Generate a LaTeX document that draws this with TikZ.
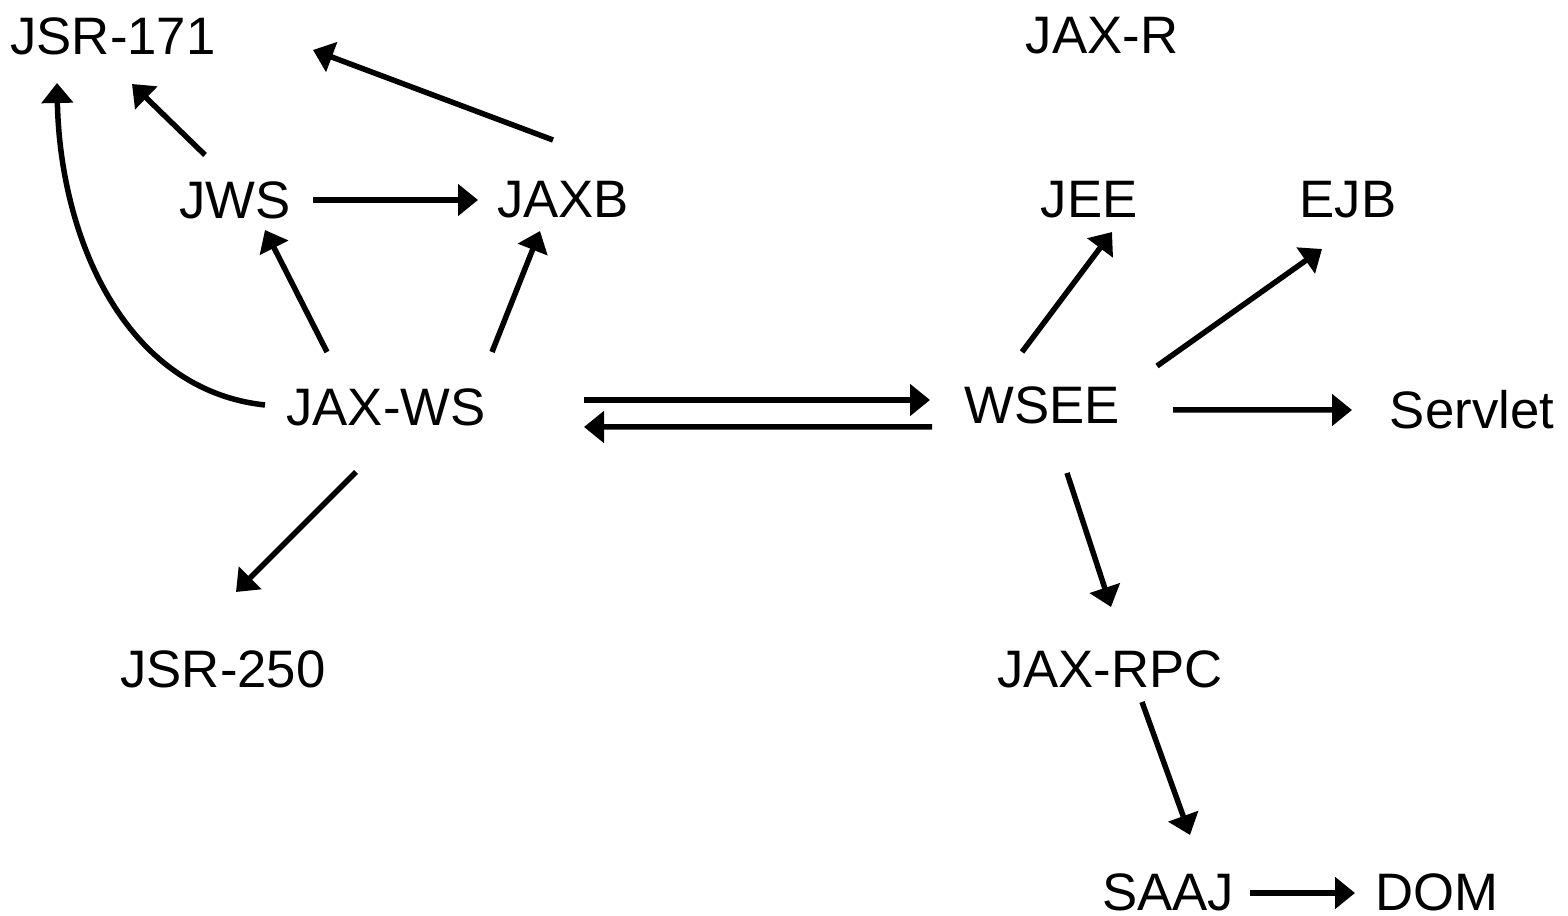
\documentclass[tikz,border=0pt]{standalone}
\usepackage{fontspec}
\setmainfont{Liberation Sans}
\usetikzlibrary{arrows.meta}
\begin{document}
\begin{tikzpicture}[
  lbl/.style={inner sep=0pt, font=\fontsize{15}{18}\selectfont},
  conn/.style={line width=0.055cm, -{Triangle[length=0.2cm,width=0.31cm]}}
]
\useasboundingbox (0,0) rectangle (15.68,-9.16);
\node[lbl] (jsr171) at (1.13,-0.36) {JSR-171};
\node[lbl] (jaxr) at (11.02,-0.36) {JAX-R};
\node[lbl] (jws) at (2.35,-2.00) {JWS};
\node[lbl] (jaxb) at (5.63,-2.00) {JAXB};
\node[lbl] (jee) at (10.89,-2.00) {JEE};
\node[lbl] (ejb) at (13.48,-2.00) {EJB};
\node[lbl] (jaxws) at (3.86,-4.07) {JAX-WS};
\node[lbl] (wsee) at (10.42,-4.05) {WSEE};
\node[lbl] (servlet) at (14.72,-4.10) {Servlet};
\node[lbl] (jsr250) at (2.23,-6.69) {JSR-250};
\node[lbl] (jaxrpc) at (11.10,-6.69) {JAX-RPC};
\node[lbl] (saaj) at (11.68,-8.92) {SAAJ};
\node[lbl] (dom) at (14.37,-8.92) {DOM};

\draw[conn] ([shift={(-0.30,0.45)}]jws.center) -- ([shift={(0.19,-0.48)}]jsr171.center);
\draw[conn] ([shift={(-0.10,0.60)}]jaxb.center) -- ([shift={(2.00,-0.14)}]jsr171.center);
\draw[conn] ([shift={(-1.21,0.02)}]jaxws.center) .. controls +(-1.40,0.15) and +(0.03,-1.55) .. ([shift={(-0.56,-0.47)}]jsr171.center);
\draw[conn] ([shift={(0.78,0)}]jws.center) -- ([shift={(-0.85,0)}]jaxb.center);
\draw[conn] ([shift={(-0.59,0.55)}]jaxws.center) -- ([shift={(0.30,-0.30)}]jws.center);
\draw[conn] ([shift={(1.06,0.55)}]jaxws.center) -- ([shift={(-0.23,-0.31)}]jaxb.center);
\draw[conn] ([shift={(-0.30,-0.65)}]jaxws.center) -- ([shift={(0.13,0.77)}]jsr250.center);
\draw[conn] ([shift={(1.98,0.07)}]jaxws.center) -- ([shift={(-1.12,0.05)}]wsee.center);
\draw[conn] ([shift={(-1.10,-0.22)}]wsee.center) -- ([shift={(1.98,-0.20)}]jaxws.center);
\draw[conn] ([shift={(-0.20,0.53)}]wsee.center) -- ([shift={(0.23,-0.32)}]jee.center);
\draw[conn] ([shift={(1.15,0.39)}]wsee.center) -- ([shift={(-0.26,-0.49)}]ejb.center);
\draw[conn] ([shift={(1.31,-0.05)}]wsee.center) -- ([shift={(-1.20,0)}]servlet.center);
\draw[conn] ([shift={(0.25,-0.68)}]wsee.center) -- ([shift={(0.01,0.62)}]jaxrpc.center);
\draw[conn] ([shift={(0.32,-0.33)}]jaxrpc.center) -- ([shift={(0.22,0.57)}]saaj.center);
\draw[conn] ([shift={(0.82,-0.01)}]saaj.center) -- ([shift={(-0.82,-0.01)}]dom.center);
\end{tikzpicture}
\end{document}
